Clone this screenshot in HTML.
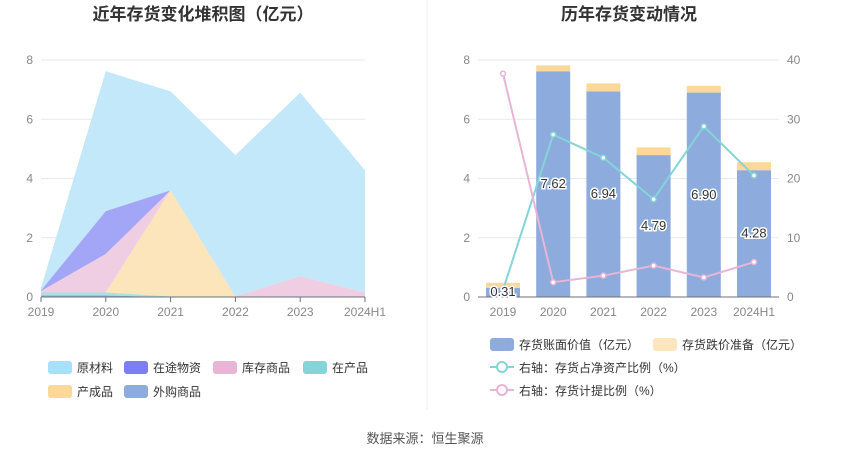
<!DOCTYPE html>
<html><head><meta charset="utf-8"><style>
body{margin:0;background:#fff;font-family:"Liberation Sans","Noto Sans CJK SC",sans-serif}
svg text{font-family:"Liberation Sans","Noto Sans CJK SC",sans-serif}
</style></head><body>
<svg id="c" width="850" height="459" xmlns="http://www.w3.org/2000/svg">
<text x="203" y="20" text-anchor="middle" font-size="17" font-weight="bold" fill="#333">近年存货变化堆积图（亿元）</text>
<text x="629" y="20" text-anchor="middle" font-size="17" font-weight="bold" fill="#333">历年存货变动情况</text>
<line x1="427" y1="0" x2="427" y2="410" stroke="#eee"/>
<text x="425" y="443" text-anchor="middle" font-size="13" fill="#555">数据来源：恒生聚源</text>
<g id="L"></g><g id="R"></g>
</svg>
<script>
const years=["2019","2020","2021","2022","2023","2024H1"];
const leftTicks=[0,2,4,6,8];
const rightTicks=[0,10,20,30,40];
const waigou=[0.05,0.05,0,0,0,0];
const zaichan=[0.1,0.1,0.02,0,0,0];
const chengpin=[0,0,3.58,0,0,0];
const kucun=[0.05,1.3,0,0.02,0.7,0.15];
const zaitu=[0.02,1.45,0,0,0,0];
const yuancai=[0.09,4.72,3.34,4.77,6.2,4.13];
const bookValue=[0.31,7.62,6.94,4.79,6.90,4.28];
const impairment=[0.17,0.2,0.27,0.26,0.23,0.27];
const assetRatio=[1.2,27.4,23.5,16.5,28.8,20.5];
const provisionRatio=[37.7,2.5,3.6,5.3,3.3,5.9];
const NS="http://www.w3.org/2000/svg";
function mk(p,t,a){const e=document.createElementNS(NS,t);for(const k in a)e.setAttribute(k,a[k]);p.appendChild(e);return e;}
const y=v=>297-v*29.625, yr=v=>297-v*5.925;
// left chart
const L=document.getElementById('L');
const lx=i=>41+i*64.8;
leftTicks.forEach(t=>{const g=mk(L,'line',{x1:41,x2:365,y1:y(t),y2:y(t),stroke:'#e3e8f4'});
const tx=mk(L,'text',{x:33,y:y(t)+4,'text-anchor':'end','font-size':12,fill:'#888'});tx.textContent=t;});
const series=[["waigou",waigou,"#8dabdc"],["zaichan",zaichan,"#a7e3e0"],["chengpin",chengpin,"#fce4bb"],["kucun",kucun,"#efcde3"],["zaitu",zaitu,"#a3a6f7"],["yuancai",yuancai,"#c2e8f9"]];
let base=years.map(()=>0);
const layers=[];
series.forEach(s=>{const top=base.map((b,i)=>b+s[1][i]);layers.push([s,base.slice(),top]);base=top;});
layers.reverse().forEach(([s,b,t])=>{let d=t.map((v,i)=>(i?'L':'M')+lx(i)+','+y(v)).join('');for(let i=years.length-1;i>=0;i--)d+='L'+lx(i)+','+y(b[i]);
const p=mk(L,'path',{d:d+'Z',fill:s[2]});});
mk(L,'line',{x1:41,x2:365,y1:297,y2:297,stroke:'#6e7079'});
years.forEach((yy,i)=>{mk(L,'line',{x1:lx(i),x2:lx(i),y1:297,y2:302,stroke:'#6e7079'});const t=mk(L,'text',{x:lx(i),y:316,'text-anchor':'middle','font-size':12,fill:'#888'});t.textContent=yy;});
const leg=[["原材料","#a8e0f9",48,367],["在途物资","#7b7ef5",124,367],["库存商品","#e8b5d6",213,367],["在产品","#84d4d8",303,367],["产成品","#fdd899",48,391],["外购商品","#8dabdc",124,391]];
leg.forEach(l=>{const r=mk(L,'rect',{x:l[2],y:l[3]-6,width:24,height:13,rx:3,fill:l[1]});const t=mk(L,'text',{x:l[2]+29,y:l[3]+5,'font-size':12,fill:'#333'});t.textContent=l[0];});
// right chart
const R=document.getElementById('R');
const rx=i=>503+i*50.2;
leftTicks.forEach((t,k)=>{mk(R,'line',{x1:478,x2:779,y1:y(t),y2:y(t),stroke:'#e3e8f4'});
const a=mk(R,'text',{x:470,y:y(t)+4,'text-anchor':'end','font-size':12,fill:'#888'});a.textContent=t;
const b=mk(R,'text',{x:787,y:yr(rightTicks[k])+4,'font-size':12,fill:'#888'});b.textContent=rightTicks[k];});
years.forEach((yy,i)=>{const b=mk(R,'rect',{x:rx(i)-17,y:y(bookValue[i]),width:34,height:bookValue[i]*29.625,fill:'#8dabdc'});
const c=mk(R,'rect',{x:rx(i)-17,y:y(bookValue[i]+impairment[i]),width:34,height:impairment[i]*29.625,fill:'#fdd899'});});
mk(R,'line',{x1:478,x2:779,y1:297,y2:297,stroke:'#6e7079'});
years.forEach((yy,i)=>{const t=mk(R,'text',{x:rx(i),y:316,'text-anchor':'middle','font-size':12,fill:'#888'});t.textContent=yy;});
[[assetRatio,'#84d4d8','line-asset-ratio'],[provisionRatio,'#e8b5d6','line-provision-ratio']].forEach(s=>{const p=mk(R,'polyline',{points:s[0].map((v,i)=>rx(i)+','+yr(v)).join(' '),fill:'none',stroke:s[1],'stroke-width':2});
s[0].forEach((v,i)=>{const c=mk(R,'circle',{cx:rx(i),cy:yr(v),r:2.5,fill:'#fff',stroke:s[1],'stroke-width':1.5});});});
years.forEach((yy,i)=>{const v=bookValue[i];const ly=i==0?y(0)-1:y(v/2)+4;const t=mk(R,'text',{x:rx(i),y:ly,'text-anchor':'middle','font-size':13,fill:'#333',stroke:'#fff','stroke-width':3,'paint-order':'stroke'});t.textContent=v.toFixed(2);});
const rl=[["存货账面价值（亿元）",490,344,'#8dabdc',0],["存货跌价准备（亿元）",653,344,'#fde5bd',0],["右轴：存货占净资产比例（%）",490,367,'#84d4d8',1],["右轴：存货计提比例（%）",490,390,'#e8b5d6',1]];
rl.forEach(l=>{if(l[4]){mk(R,'line',{x1:l[1],x2:l[1]+24,y1:l[2],y2:l[2],stroke:l[3],'stroke-width':2});const c=mk(R,'circle',{cx:l[1]+12,cy:l[2],r:5,fill:'#fff',stroke:l[3],'stroke-width':2});}
else{const r=mk(R,'rect',{x:l[1],y:l[2]-6,width:24,height:13,rx:3,fill:l[3]});}
const t=mk(R,'text',{x:l[1]+29,y:l[2]+5,'font-size':12,fill:'#333'});t.textContent=l[0];});
</script>
</body></html>
